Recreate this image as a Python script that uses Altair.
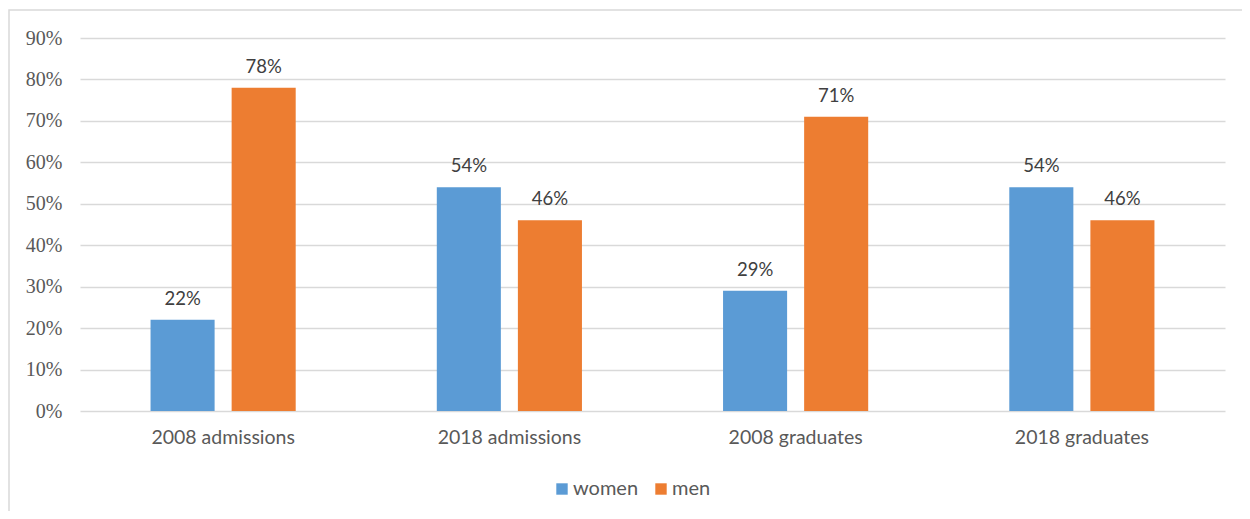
import altair as alt
import pandas as pd

categories = ["2008 admissions", "2018 admissions", "2008 graduates", "2018 graduates"]
series = ["women", "men"]
women = [0.22, 0.54, 0.29, 0.54]
men = [0.78, 0.46, 0.71, 0.46]
y_ticks = [0, 0.1, 0.2, 0.3, 0.4, 0.5, 0.6, 0.7, 0.8, 0.9]

rows = []
for c, w, m in zip(categories, women, men):
    rows.append({"cat": c, "sex": "women", "val": w})
    rows.append({"cat": c, "sex": "men", "val": m})
df = pd.DataFrame(rows)

W, H = 1145, 373
gray_text = "#595959"
grid = "#D9D9D9"

x = alt.X("cat:N", sort=categories, title=None,
          scale=alt.Scale(paddingInner=0, paddingOuter=0),
          axis=alt.Axis(labelAngle=0, labelFont="Lato", labelFontSize=19.5,
                        labelColor=gray_text, labelPadding=17, ticks=False,
                        domain=False))
xo = alt.XOffset("sex:N", sort=series,
                 scale=alt.Scale(paddingInner=0.21, paddingOuter=0.87))
y = alt.Y("val:Q", title=None,
          scale=alt.Scale(domain=[0, 0.9], nice=False),
          axis=alt.Axis(values=y_ticks, format=".0%", labelFont="Liberation Serif",
                        labelFontSize=20, labelColor=gray_text, labelPadding=18,
                        ticks=False, domain=False, gridColor=grid, gridWidth=1.5))
color = alt.Color("sex:N", sort=series, title=None,
                  scale=alt.Scale(domain=series, range=["#5B9BD5", "#ED7D31"]),
                  legend=alt.Legend(orient="none", direction="horizontal",
                                    legendX=472, legendY=441,
                                    symbolType="square", symbolSize=130,
                                    symbolStrokeWidth=0, labelFont="Lato",
                                    labelFontSize=20, labelColor=gray_text,
                                    columnPadding=12, labelOffset=1))

base = alt.Chart(df)
bars = base.mark_bar().encode(x=x, xOffset=xo, y=y, color=color)
labels = base.mark_text(baseline="bottom", dy=-11, font="Lato", fontSize=18.5,
                        color="#404040").encode(
    x=x, xOffset=xo, y=y, text=alt.Text("val:Q", format=".0%"))

frame = alt.Chart(alt.Data(values=[{}])).mark_rect(
    fill=None, stroke=grid, strokeWidth=1.5, clip=False).encode(
    x=alt.value(-71), x2=alt.value(1200), y=alt.value(-28), y2=alt.value(520))

chart = alt.layer(frame, bars, labels).properties(
    width=W, height=H,
    autosize=alt.AutoSizeParams(type="none"),
    padding={"left": 72, "top": 30, "right": 17, "bottom": 100},
    background="white",
).configure_view(stroke=None)

chart.save("out.html", embed_options={"renderer": "svg", "actions": False})
